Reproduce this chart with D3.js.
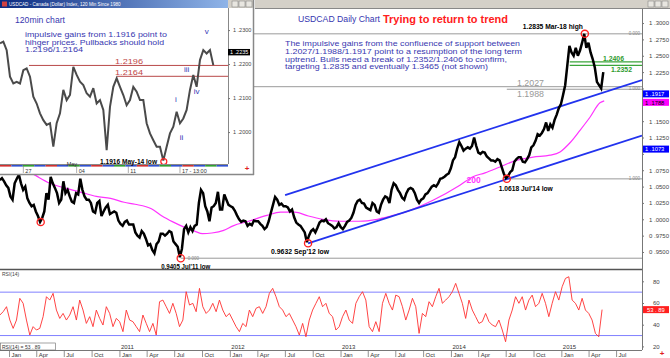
<!DOCTYPE html>
<html><head><meta charset="utf-8">
<script src="https://cdnjs.cloudflare.com/ajax/libs/d3/7.8.5/d3.min.js"></script>
<style>body{margin:0;background:#fff}svg{display:block}text{font-family:"Liberation Sans",Arial,sans-serif}</style>
</head><body><svg id="c" width="670" height="358"></svg>
<script>
// ---------------- DATA ----------------
const weekStart = "2009-11-30"; // weekly closes, one value per week
const w2009 = [1.060,1.063,1.058,1.052,1.048];
const w2010 = [1.035,1.030,1.055,1.062, 1.068,1.055,1.045,1.050, 1.032,1.025,1.020,1.022,1.012, 1.005,0.996,1.002,1.012, 1.040,1.030,1.065,1.055,1.048, 1.040,1.025,1.030,1.058, 1.040,1.045,1.035,1.027, 1.025,1.040,1.038,1.062,1.045, 1.035,1.030,1.030,1.025, 1.012,1.010,1.025,1.028, 1.005,1.012,1.018,1.022,1.008, 1.010,1.012,1.010,0.998];
const w2011 = [0.993,0.990,0.996,0.998,0.992, 0.992,0.992,0.980,0.975, 0.972,0.982,0.978,0.970, 0.960,0.962,0.953,0.948, 0.962,0.966,0.978,0.978,0.975, 0.978,0.982,0.980,0.966, 0.962,0.958,0.942,0.955, 0.985,0.990,0.980,0.988,0.982, 0.990,0.992,1.025,1.045, 1.040,1.020,1.012,0.997,1.018, 1.020,1.025,1.042,1.015, 1.015,1.038,1.030,1.022];
const w2012 = [1.020,1.018,1.013,1.006,1.000, 0.996,0.998,0.997,0.990, 0.993,0.991,0.998,0.997, 0.997,0.993,0.990,0.985,0.988, 0.997,1.010,1.022,1.034, 1.030,1.022,1.024,1.020, 1.020,1.018,1.012,1.015,1.003, 0.995,0.992,0.990,0.985, 0.980,0.965,0.975,0.982, 0.985,0.980,0.987,0.995,0.998, 0.997,1.000,0.994,0.992, 0.990,0.986,0.988,0.994];
const w2013 = [0.988, 0.985,0.990,0.996,0.998, 1.002,1.010,1.022,1.028, 1.030,1.025,1.024,1.018, 1.016,1.014,1.025,1.022,1.012, 1.010,1.022,1.030,1.035, 1.033,1.025,1.045,1.055, 1.052,1.045,1.040,1.033,1.030, 1.040,1.046,1.048,1.046, 1.040,1.030,1.025,1.030,1.032, 1.038,1.040,1.045,1.050, 1.052,1.050,1.055,1.062, 1.063,1.065,1.068,1.070];
const w2014 = [1.078, 1.090,1.095,1.108,1.118, 1.112,1.105,1.108,1.110, 1.108,1.112,1.125,1.112,1.102, 1.100,1.103,1.102,1.096, 1.093,1.090,1.090,1.088, 1.092,1.090,1.080,1.070,1.063, 1.066,1.072,1.075,1.088, 1.092,1.095,1.095,1.088, 1.087,1.092,1.098,1.110,1.113, 1.120,1.130,1.128,1.132, 1.138,1.148,1.135,1.145, 1.140,1.152,1.160,1.170];
const w2015 = [1.176, 1.190,1.205,1.235,1.265, 1.255,1.250,1.262,1.250, 1.258,1.270,1.2835,1.262,1.270, 1.255,1.245,1.232,1.210, 1.205,1.200,1.225];

const maDates  = ["2009-11-30","2010-02-01","2010-04-01","2010-05-15","2010-07-01","2010-08-20","2010-10-15","2010-12-01","2011-01-15","2011-02-20","2011-04-15","2011-05-20","2011-06-25","2011-08-01","2011-09-05","2011-10-01","2011-11-01","2011-12-10","2012-01-10","2012-03-01","2012-05-01","2012-06-15","2012-08-01","2012-09-15","2012-11-01","2013-01-01","2013-03-01","2013-05-01","2013-06-15","2013-08-01","2013-09-15","2013-11-01","2014-01-29","2014-03-13","2014-04-22","2014-06-10","2014-08-06","2014-09-28","2014-11-23","2014-12-26","2015-01-28","2015-03-02","2015-04-04","2015-05-07","2015-05-21"];
const maValues = [1.108,1.083,1.066,1.055,1.048,1.042,1.035,1.032,1.026,1.023,1.016,1.005,0.996,0.988,0.982,0.978,0.979,0.983,0.990,0.997,1.006,1.011,1.011,1.005,1.000,0.997,0.997,1.000,1.005,1.011,1.019,1.029,1.052,1.065,1.071,1.080,1.0905,1.095,1.098,1.103,1.117,1.136,1.156,1.178,1.181];

const upperChannel = [["2012-06-30",1.037],["2015-09-23",1.2128]];
const lowerChannel = [["2012-09-14",0.9632],["2015-09-23",1.128]];

const grayLevels  = [1.2835, 1.2027, 1.1988, 1.0618, 0.9405];
const grayFrom    = ["2009-11-30","2009-11-30","2014-07-03","2014-07-03","2011-07-21"];
const greenLevels = [1.2406, 1.2352];
const greenFrom   = "2015-01-27";

const circleDates  = ["2010-04-14","2011-07-21","2012-09-14","2014-07-03","2015-03-18"];
const circleValues = [0.9957, 0.9405, 0.9632, 1.0618, 1.2835];

const priceTicks = [1.3,1.275,1.25,1.225,1.2,1.175,1.15,1.125,1.1,1.075,1.05,1.025,1.0,0.975,0.95];
const lastValues = [{v:1.1917,c:"#0000ff",t:"#fff"},{v:1.1788,c:"#ff00ff",t:"#000"},{v:1.1073,c:"#0000ff",t:"#fff"}];

// RSI(14), one reading every 11 days from rsiStart
const rsiStart = "2009-11-30", rsiStepDays = 11;
const rsiValues = [48.9,52.0,56.6,44.3,36.6,44.3,64.3,59.7,44.3,30.5,38.2,35.1,36.6,47.4,65.8,62.7,68.9,53.5,45.8,50.4,44.3,48.9,56.6,44.3,62.7,53.5,41.2,47.4,38.2,53.5,45.8,39.7,56.6,50.4,38.2,45.8,42.8,33.6,53.5,44.3,42.8,38.2,33.6,48.9,41.2,33.6,41.2,30.5,61.2,62.7,56.6,50.4,59.7,50.4,38.2,44.3,70.4,58.1,59.7,52.0,73.5,56.6,50.4,53.5,59.7,52.0,62.7,53.5,47.4,50.4,44.3,38.2,33.6,41.2,38.2,53.5,47.4,55.1,56.6,50.4,56.6,68.9,73.5,65.8,56.6,53.5,47.4,50.4,44.3,38.2,30.5,41.2,28.9,44.3,53.5,59.7,65.8,56.6,59.7,50.4,47.4,35.1,
 38.2,47.4,53.5,44.3,41.2,59.7,65.8,70.4,62.7,38.2,33.6,42.8,33.6,59.7,68.9,59.7,53.5,67.3,65.8,56.6,44.3,53.5,64.3,56.6,32.0,50.4,47.4,61.2,56.6,65.8,73.5,59.7,62.7,65.8,70.4,78.1,68.9,59.7,45.8,62.7,53.5,47.4,41.2,42.8,50.4,42.8,39.7,38.2,44.3,35.1,24.3,44.3,53.5,65.8,59.7,65.8,53.5,62.7,67.3,56.6,59.7,68.9,59.7,47.4,59.7,70.4,62.7,75.0,82.7,84.2,62.7,59.7,53.5,64.3,53.5,50.4,44.3,32.0,28.9,53.9];
const rsiTicks = [20,40,60,80];
const rsiBands = [70,30];
const rsiLast = 53.89;

// 120-minute inset
const insetValues = [1.2261,1.2266,1.2241,1.2163,1.2143,1.2148,1.2143,1.2182,1.2187,1.2163,1.2104,1.2084,1.2055,1.2035,1.2021,1.2026,1.1957,1.2026,1.2055,1.2124,1.2094,1.2109,1.2192,1.2168,1.2148,1.2138,1.2114,1.2104,1.2129,1.2084,1.2094,1.2065,1.1947,1.2074,1.2133,1.2158,1.2133,1.2109,1.2079,1.2094,1.2133,1.2119,1.2094,1.2094,1.2026,1.1996,1.1976,1.1957,1.1957,1.1916,1.1957,1.1996,1.2016,1.2060,1.2026,1.2040,1.2065,1.2124,1.2168,1.2133,1.2212,1.2241,1.2231,1.2241,1.2197];
const insetTicks = [1.23,1.22,1.21,1.20];
const insetTickLabels = ["27","04","11","17 - 13:00"];
const insetTickIdx = [7,23,38.5,54];
const insetLevels = [1.2196,1.2164];
const insetLevelFrom = [8.7,35.1];
const insetLast = 1.2235;
const insetLow = [49,1.1916];
const waveLabels = ["i","ii","iii","iv","v"];
const waveIdx = [52.8,54.5,56,59,62];
const waveVal = [1.2087,1.1978,1.2178,1.2113,1.2287];

// ---------------- DRAW ----------------
const svg = d3.select("#c");
const F = '"Liberation Sans",Arial,sans-serif';
svg.append("rect").attr("width",670).attr("height",358).attr("fill","#fff");
const parse = s => new Date(s+"T00:00:00Z");

const x = d3.scaleUtc().domain([new Date("2009-11-30T12:00:00Z"), parse("2015-09-23")]).range([0,642]);
const y = d3.scaleLinear().domain([0.924,1.323]).range([269,8]);
const yR = d3.scaleLinear().domain([20,80]).range([346.4,281.3]);

const defs = svg.append("defs");
defs.append("clipPath").attr("id","pc").append("rect").attr("x",0).attr("y",8).attr("width",642).attr("height",261);
defs.append("clipPath").attr("id","rc").append("rect").attr("x",0).attr("y",270).attr("width",642).attr("height",79);
const g1 = defs.append("linearGradient").attr("id","tb");
g1.append("stop").attr("offset","0").attr("stop-color","#0a2a80");
g1.append("stop").attr("offset","1").attr("stop-color","#8fb4e8");

const start = parse(weekStart);
const closes = [].concat(w2009,w2010,w2011,w2012,w2013,w2014,w2015);
const price = closes.map((v,i)=>({d:d3.utcDay.offset(start,7*i), v}));

const main = svg.append("g").attr("clip-path","url(#pc)");
grayLevels.forEach((v,i)=>{
  main.append("line").attr("x1",x(parse(grayFrom[i]))).attr("x2",642).attr("y1",y(v)).attr("y2",y(v))
    .attr("stroke","#9a9a9a").attr("stroke-width",1);
});
greenLevels.forEach(v=>{
  main.append("line").attr("x1",x(parse(greenFrom))).attr("x2",642).attr("y1",y(v)).attr("y2",y(v))
    .attr("stroke","#3aa53a").attr("stroke-width",1.2);
});
main.append("path").datum(maDates.map((d,i)=>({d:parse(d),v:maValues[i]})))
  .attr("d",d3.line().x(d=>x(d.d)).y(d=>y(d.v)).curve(d3.curveMonotoneX))
  .attr("fill","none").attr("stroke","#ff33ff").attr("stroke-width",1.2);
[upperChannel,lowerChannel].forEach(c=>{
  main.append("line").attr("x1",x(parse(c[0][0]))).attr("y1",y(c[0][1]))
    .attr("x2",x(parse(c[1][0]))).attr("y2",y(c[1][1])).attr("stroke","#2233ee").attr("stroke-width",1.8);
});
main.append("path").datum(price).attr("d",d3.line().x(d=>x(d.d)).y(d=>y(d.v)))
  .attr("fill","none").attr("stroke","#000").attr("stroke-width",2.5).attr("stroke-linejoin","miter").attr("stroke-miterlimit",3);
circleDates.forEach((d,i)=>{
  main.append("circle").attr("cx",x(parse(d))).attr("cy",y(circleValues[i])).attr("r",3.6)
    .attr("fill","none").attr("stroke","#ff2020").attr("stroke-width",1.3);
});

function T(px,py,s,o){ const t=svg.append("text").attr("x",px).attr("y",py).text(s)
  .attr("font-size",o.fs).attr("fill",o.c||"#000").attr("font-weight",o.b?"bold":"normal").attr("text-anchor",o.a||"start");
  if(o.w) t.attr("textLength",o.w).attr("lengthAdjust","spacingAndGlyphs"); return t;}
T(x(parse("2011-07-21"))+5, y(0.9405)+10.5, "0.9405 Jul'11 low",{fs:7,b:1,a:"middle",w:49});
T(x(parse("2012-09-14"))-8, y(0.9632)+11, "0.9632 Sep'12 low",{fs:7,b:1,a:"middle",w:58});
T(x(parse("2014-07-03"))+19, y(1.0618)+12, "1.0618 Jul'14 low",{fs:7,b:1,a:"middle",w:54});
T(x(parse("2015-03-18"))-32, y(1.2835)-4.5, "1.2835 Mar-18 high",{fs:7,b:1,a:"middle",w:60});
T(x(parse("2014-03-15")), y(1.0555), "200",{fs:8.5,b:1,c:"#ff33ff",a:"middle"});
T(603, y(1.2406)-0.8, "1.2406",{fs:6.5,b:1,c:"#2e9a2e",w:21});
T(611, y(1.2352)+6.5, "1.2352",{fs:6.5,b:1,c:"#2e9a2e",w:21});
T(517, y(1.2027)-1, "1.2027",{fs:8.5,c:"#999",w:27});
T(517, y(1.1988)+7.5, "1.1988",{fs:8.5,c:"#999",w:27});
T(298, 21.5, "USDCAD Daily Chart",{fs:9,c:"#3535b0",w:82});
T(383, 22.5, "Trying to return to trend",{fs:11,b:1,c:"#ff2020",w:125});
const para = ["The impulsive gains from the confluence of support between",
  "1.2027/1.1988/1.1917 point to a resumption of the long term",
  "uptrend. Bulls need a break of 1.2352/1.2406 to confirm,",
  "targeting 1.2835 and eventually 1.3465 (not shown)"];
const paraW=[235,237,222,203];
para.forEach((s,i)=>T(285,46+i*7.8,s,{fs:7.4,c:"#3838b0",w:paraW[i]}));
[["0.000",y(1.2835)],["1.000",y(1.1988)],["1.000",y(1.0618)]].forEach(a=>T(640,a[1]+1,a[0],{fs:4.5,c:"#888",a:"end"}));
T(x(parse("2011-07-21"))+7, y(0.9405)+1.5, "0.000",{fs:4.5,c:"#888"});

svg.append("line").attr("x1",0).attr("x2",642).attr("y1",269.5).attr("y2",269.5).attr("stroke","#555").attr("stroke-width",1.5);
svg.append("line").attr("x1",642.5).attr("x2",642.5).attr("y1",8).attr("y2",350).attr("stroke","#777");
const shownTicks = priceTicks.filter(t=>lastValues.every(o=>Math.abs(y(t)-y(o.v))>6));
const ax = svg.append("g").attr("transform","translate(642,0)")
  .call(d3.axisRight(y).tickValues(priceTicks).tickSize(2).tickPadding(5).tickFormat(d3.format(".4f")));
ax.select(".domain").remove();
ax.selectAll("text").attr("font-size",6).attr("fill","#444").attr("font-family",F)
  .text(d=>shownTicks.includes(d)?d3.format(".4f")(d).replace(/^(\d)\./,"$1 ."):"");
ax.selectAll("line").attr("stroke","#777");
lastValues.forEach(o=>{
  svg.append("rect").attr("x",643).attr("y",y(o.v)-3.5).attr("width",26).attr("height",7).attr("fill",o.c);
  T(645,y(o.v)+2.2,d3.format(".4f")(o.v).replace(/^(\d)\./,"$1 ."),{fs:5.8,c:o.t});
});

// RSI panel
const rsi = rsiValues.map((v,i)=>({d:d3.utcDay.offset(parse(rsiStart),rsiStepDays*i),v}));
const rg = svg.append("g").attr("clip-path","url(#rc)");
rsiBands.forEach(b=>rg.append("line").attr("x1",0).attr("x2",642).attr("y1",yR(b)).attr("y2",yR(b)).attr("stroke","#8080ff").attr("stroke-width",1));
rg.append("path").datum(rsi).attr("d",d3.line().x(d=>x(d.d)).y(d=>yR(d.v)))
  .attr("fill","none").attr("stroke","#ff3030").attr("stroke-width",0.9);
const axR = svg.append("g").attr("transform","translate(642,0)")
  .call(d3.axisRight(yR).tickValues(rsiTicks).tickSize(2).tickPadding(9));
axR.select(".domain").remove();
axR.selectAll("text").attr("font-size",6).attr("fill","#444").attr("font-family",F);
axR.selectAll("line").attr("stroke","#777");
svg.append("rect").attr("x",643).attr("y",yR(rsiLast)-3.5).attr("width",26).attr("height",7).attr("fill","#ff2020");
T(647,yR(rsiLast)+2.2,"53 . 89",{fs:5.8,c:"#fff"});
T(2,275.5,"RSI(14)",{fs:5,c:"#444"});
svg.append("line").attr("x1",0).attr("x2",642).attr("y1",350.5).attr("y2",350.5).attr("stroke","#777");
svg.append("rect").attr("x",0.5).attr("y",343).attr("width",55).attr("height",7).attr("fill","#fff").attr("stroke","#666").attr("stroke-width",0.6);
T(2,348.8,"RSI(14) =     53 . 89",{fs:5,c:"#333"});

// bottom time axis
const months = d3.utcMonth.every(3).range(parse("2010-01-01"), parse("2015-08-01"));
const mName = ["Jan","","","Apr","","","Jul","","","Oct"];
months.forEach(m=>{
  const px = x(m);
  svg.append("line").attr("x1",px).attr("x2",px).attr("y1",350).attr("y2",357).attr("stroke","#777").attr("stroke-width",0.8);
  T(px+2,356.5,mName[m.getUTCMonth()],{fs:6,c:"#333"});
  if(m.getUTCMonth()===0 && m.getUTCFullYear()>2010) T(px+1,348.8,String(m.getUTCFullYear()),{fs:6,c:"#333"});
});
svg.append("text").attr("x",662).attr("y",356).attr("text-anchor","middle").attr("font-size",8).attr("font-weight","bold").attr("fill","#e02020").text("+");

// window title bar (main)
svg.append("rect").attr("x",255).attr("y",0).attr("width",415).attr("height",8).attr("fill","#d4d0c8");
svg.append("line").attr("x1",255).attr("x2",670).attr("y1",8.5).attr("y2",8.5).attr("stroke","#888");
[648,655,662].forEach(bx=>{svg.append("rect").attr("x",bx).attr("y",1).attr("width",6).attr("height",6).attr("fill","#e8e6e0").attr("stroke","#777").attr("stroke-width",0.5);});

// ---------------- INSET ----------------
const ins = svg.append("g");
ins.append("rect").attr("x",0).attr("y",0).attr("width",254).attr("height",175).attr("fill","#fff");
ins.append("rect").attr("x",0).attr("y",0).attr("width",254).attr("height",8).attr("fill","#d4d0c8");
ins.append("rect").attr("x",0).attr("y",0).attr("width",228).attr("height",8).attr("fill","url(#tb)");
ins.append("rect").attr("x",2).attr("y",1.5).attr("width",5).attr("height",5).attr("fill","#d04040");
ins.append("text").attr("x",9).attr("y",6).attr("font-size",4.6).attr("fill","#fff").text("USDCAD - Canada (Dollar) Index, 120 Min Since 1980");
[232,239,246].forEach(bx=>ins.append("rect").attr("x",bx).attr("y",1).attr("width",6).attr("height",6).attr("fill","#e8e6e0").attr("stroke","#777").attr("stroke-width",0.5));
ins.append("line").attr("x1",253.5).attr("x2",253.5).attr("y1",0).attr("y2",175).attr("stroke","#888").attr("stroke-width",1.5);
ins.append("line").attr("x1",0).attr("x2",254).attr("y1",174.5).attr("y2",174.5).attr("stroke","#888").attr("stroke-width",1.5);
ins.append("line").attr("x1",228.5).attr("x2",228.5).attr("y1",8).attr("y2",164).attr("stroke","#888");

const xi = d3.scaleLinear().domain([0,64]).range([0,213.3]);
const yi = d3.scaleLinear().domain([1.1909,1.2362]).range([163,9]);
insetLevels.forEach((v,i)=>ins.append("line").attr("x1",xi(insetLevelFrom[i])).attr("x2",228).attr("y1",yi(v)).attr("y2",yi(v)).attr("stroke","#b84848").attr("stroke-width",1));
ins.append("path").datum(insetValues).attr("d",d3.line().x((d,i)=>xi(i)).y(d=>yi(d)))
  .attr("fill","none").attr("stroke","#4a4a4a").attr("stroke-width",2).attr("stroke-linejoin","miter").attr("stroke-miterlimit",3);
ins.append("circle").attr("cx",xi(insetLow[0])+0.5).attr("cy",yi(insetLow[1])+1).attr("r",3).attr("fill","none").attr("stroke","#ff2020").attr("stroke-width",1.2);
const ai = ins.append("g").attr("transform","translate(228,0)")
  .call(d3.axisRight(yi).tickValues(insetTicks).tickSize(2).tickPadding(3).tickFormat(d3.format(".4f")));
ai.select(".domain").remove();
ai.selectAll("text").attr("font-size",5.5).attr("fill","#444").attr("font-family",F).text(d=>d3.format(".4f")(d).replace(/^(\d)\./,"$1 ."));
ai.selectAll("line").attr("stroke","#777");
ins.append("rect").attr("x",228).attr("y",yi(insetLast)-3.2).attr("width",22).attr("height",6.4).attr("fill","#000");
ins.append("text").attr("x",230).attr("y",yi(insetLast)+2).attr("font-size",5.5).attr("fill","#fff").text("1 .2235");
ins.append("line").attr("x1",0).attr("x2",228).attr("y1",164.5).attr("y2",164.5).attr("stroke","#888");
const stripCols=["#d03030","#3050d0","#30a030","#3050d0"];
for(let k=0;k<20;k++){ins.append("rect").attr("x",k*11.4).attr("y",165).attr("width",11.4).attr("height",1.6).attr("fill",stripCols[k%4]);}
insetTickIdx.forEach((t,i)=>{
  ins.append("line").attr("x1",xi(t)).attr("x2",xi(t)).attr("y1",166).attr("y2",173).attr("stroke","#777").attr("stroke-width",0.6);
  ins.append("text").attr("x",xi(t)+2).attr("y",172.5).attr("font-size",5.5).attr("fill","#333").text(insetTickLabels[i]);
});
ins.append("text").attr("x",xi(23)-10).attr("y",165.5).attr("font-size",5.5).attr("fill","#333").text("May");
ins.append("text").attr("x",247).attr("y",171).attr("text-anchor","middle").attr("font-size",8).attr("font-weight","bold").attr("fill","#e02020").text("+");

function TI(px,py,s,o){ const t=ins.append("text").attr("x",px).attr("y",py).text(s)
  .attr("font-size",o.fs).attr("fill",o.c||"#000").attr("font-weight",o.b?"bold":"normal").attr("text-anchor",o.a||"start");
  if(o.w) t.attr("textLength",o.w).attr("lengthAdjust","spacingAndGlyphs"); return t;}
TI(15,23,"120min chart",{fs:8.5,c:"#3838b0",w:50});
const ipara=["impulsive gains from 1.1916 point to","hihger prices. Pullbacks should hold","1.2196/1.2164"];
const ipW=[142,139,58];
ipara.forEach((s,i)=>TI(25,37+i*7.7,s,{fs:7.2,c:"#3838b0",w:ipW[i]}));
TI(115,yi(insetLevels[0])-1.5,"1.2196",{fs:8,c:"#c04848",w:28});
TI(115,yi(insetLevels[1])-1,"1.2164",{fs:8,c:"#c04848",w:28});
waveLabels.forEach((s,i)=>TI(xi(waveIdx[i]),yi(waveVal[i]),s,{fs:8,c:"#3535b5",a:"middle"}));
TI(100,163.5,"1.1916 May-14 low",{fs:7,b:1,w:57});
</script></body></html>
